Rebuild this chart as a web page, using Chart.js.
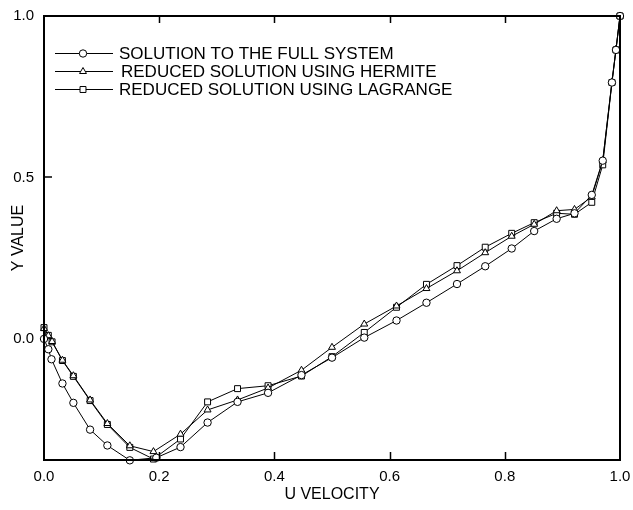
<!DOCTYPE html>
<html>
<head>
<meta charset="utf-8">
<script src="https://cdn.jsdelivr.net/npm/chart.js@4/dist/chart.umd.min.js"></script>
<style>
  html, body { margin: 0; padding: 0; background: #fff; }
  #wrap { width: 633px; height: 510px; }
</style>
</head>
<body>
<div id="wrap"><canvas id="uChart" width="633" height="510"></canvas></div>
<script>
// values
const xFull = [0, 0.0075, 0.013, 0.032, 0.051, 0.080, 0.110, 0.149, 0.195, 0.237, 0.284, 0.336, 0.389, 0.447, 0.500, 0.556, 0.612, 0.664, 0.717, 0.766, 0.812, 0.851, 0.890, 0.921, 0.951, 0.970, 0.986, 0.993, 1.0];
const yFull = [0.0, -0.032, -0.063, -0.138, -0.198, -0.281, -0.330, -0.376, -0.368, -0.335, -0.259, -0.195, -0.167, -0.112, -0.058, 0.004, 0.057, 0.112, 0.170, 0.225, 0.280, 0.334, 0.372, 0.389, 0.446, 0.552, 0.794, 0.895, 1.0];

const xHermite = [0, 0.0075, 0.014, 0.032, 0.051, 0.080, 0.110, 0.149, 0.190, 0.237, 0.284, 0.336, 0.389, 0.447, 0.500, 0.556, 0.612, 0.664, 0.717, 0.766, 0.812, 0.851, 0.890, 0.921, 0.951, 0.970, 0.986, 0.993, 1.0];
const yHermite = [0.032, 0.010, -0.008, -0.066, -0.114, -0.189, -0.262, -0.331, -0.349, -0.295, -0.220, -0.189, -0.152, -0.097, -0.026, 0.046, 0.102, 0.156, 0.211, 0.267, 0.318, 0.355, 0.397, 0.401, 0.440, 0.552, 0.796, 0.897, 1.0];

const xLagrange = [0, 0.0075, 0.014, 0.032, 0.051, 0.080, 0.110, 0.149, 0.190, 0.237, 0.284, 0.336, 0.389, 0.447, 0.500, 0.556, 0.612, 0.664, 0.717, 0.766, 0.812, 0.851, 0.890, 0.921, 0.951, 0.970, 0.986, 0.993, 1.0];
const yLagrange = [0.035, 0.011, -0.009, -0.067, -0.116, -0.191, -0.265, -0.336, -0.372, -0.310, -0.195, -0.154, -0.145, -0.115, -0.055, 0.020, 0.098, 0.169, 0.227, 0.284, 0.327, 0.360, 0.389, 0.386, 0.423, 0.539, 0.794, 0.895, 1.0];

const seriesLabels = ['SOLUTION TO THE FULL SYSTEM', 'REDUCED SOLUTION USING HERMITE', 'REDUCED SOLUTION USING LAGRANGE'];
const xTickValues = [0, 0.2, 0.4, 0.6, 0.8, 1.0];
const yTickValues = [0, 0.5, 1.0];

const FONT = '"Liberation Sans", Arial, Helvetica, sans-serif';

function toPoints(xs, ys) {
    return xs.map((x, i) => ({ x: x, y: ys[i] }));
}

function makeSet(label, xs, ys, style, radius) {
    return {
        label: label,
        data: toPoints(xs, ys),
        showLine: true,
        borderColor: '#000',
        borderWidth: 1,
        backgroundColor: '#fff',
        pointStyle: style,
        pointRadius: radius,
        pointBorderWidth: 1,
        pointBorderColor: '#000',
        pointBackgroundColor: '#fff',
        clip: false
    };
}

// keep the plot box where the reference has it
function noEdgePadding(s) {
    s.paddingLeft = 0; s.paddingRight = 0;
    s.paddingTop = 0; s.paddingBottom = 0;
}

// frame, inward ticks and legend box inside the plot
const framePlugin = {
    id: 'frame',
    afterDatasetsDraw(chart) {
        const ctx = chart.ctx;
        const a = chart.chartArea;
        const xs = chart.scales.x;
        const ys = chart.scales.y;
        ctx.save();
        ctx.strokeStyle = '#000';
        ctx.lineWidth = 1.5;
        [0.2, 0.4, 0.6, 0.8].forEach(v => {
            const px = Math.round(xs.getPixelForValue(v)) + 0.5;
            ctx.beginPath();
            ctx.moveTo(px, a.bottom); ctx.lineTo(px, a.bottom - 8);
            ctx.moveTo(px, a.top); ctx.lineTo(px, a.top + 7);
            ctx.stroke();
        });
        const py = Math.round(ys.getPixelForValue(0.5));
        ctx.beginPath();
        ctx.moveTo(a.left, py); ctx.lineTo(a.left + 8, py);
        ctx.stroke();

        ctx.lineWidth = 2;
        ctx.strokeRect(a.left, a.top, a.right - a.left, a.bottom - a.top);

        // legend
        const rows = [53.5, 71.5, 89.5];
        ctx.font = '17px ' + FONT;
        ctx.textBaseline = 'middle';
        ctx.textAlign = 'left';
        chart.data.datasets.forEach((ds, i) => {
            const y = rows[i];
            ctx.lineWidth = 1;
            ctx.strokeStyle = '#000';
            ctx.beginPath();
            ctx.moveTo(55, y); ctx.lineTo(113, y);
            ctx.stroke();
            ctx.fillStyle = '#fff';
            Chart.helpers.drawPoint(ctx, { pointStyle: ds.pointStyle, radius: ds.pointRadius, rotation: 0, borderWidth: 1 }, 83, y);
            ctx.fillStyle = '#000';
            ctx.fillText(ds.label, i === 1 ? 121 : 119, y + 1);
        });
        ctx.restore();
    }
};

new Chart(document.getElementById('uChart').getContext('2d'), {
    type: 'scatter',
    data: {
        datasets: [
            makeSet(seriesLabels[0], xFull, yFull, 'circle', 3.7),
            makeSet(seriesLabels[1], xHermite, yHermite, 'triangle', 4),
            makeSet(seriesLabels[2], xLagrange, yLagrange, 'rect', 4.2)
        ]
    },
    options: {
        responsive: false,
        animation: false,
        layout: { padding: { top: 16, right: 13, left: 0, bottom: 0 } },
        plugins: {
            legend: { display: false },
            tooltip: { enabled: false }
        },
        scales: {
            x: {
                type: 'linear',
                min: 0,
                max: 1,
                grid: { display: false, drawTicks: false },
                border: { display: false },
                afterFit: s => { s.height = 50; noEdgePadding(s); },
                afterBuildTicks: s => { s.ticks = xTickValues.map(v => ({ value: v })); },
                ticks: {
                    color: '#000',
                    padding: 8,
                    font: { family: FONT, size: 15 },
                    maxRotation: 0,
                    callback: v => v.toFixed(1)
                },
                title: {
                    display: true,
                    text: 'U VELOCITY',
                    color: '#000',
                    font: { family: FONT, size: 16 },
                    padding: { top: 0, bottom: 6 }
                }
            },
            y: {
                type: 'linear',
                min: -0.375,
                max: 1,
                grid: { display: false, drawTicks: false },
                border: { display: false },
                afterFit: s => { s.width = 44; noEdgePadding(s); },
                afterBuildTicks: s => { s.ticks = yTickValues.map(v => ({ value: v })); },
                ticks: {
                    color: '#000',
                    padding: 10,
                    font: { family: FONT, size: 15 },
                    callback: v => v.toFixed(1)
                },
                title: {
                    display: true,
                    text: 'Y VALUE',
                    color: '#000',
                    font: { family: FONT, size: 16 },
                    padding: { top: 9, bottom: 0 }
                }
            }
        }
    },
    plugins: [framePlugin]
});
</script>
</body>
</html>
